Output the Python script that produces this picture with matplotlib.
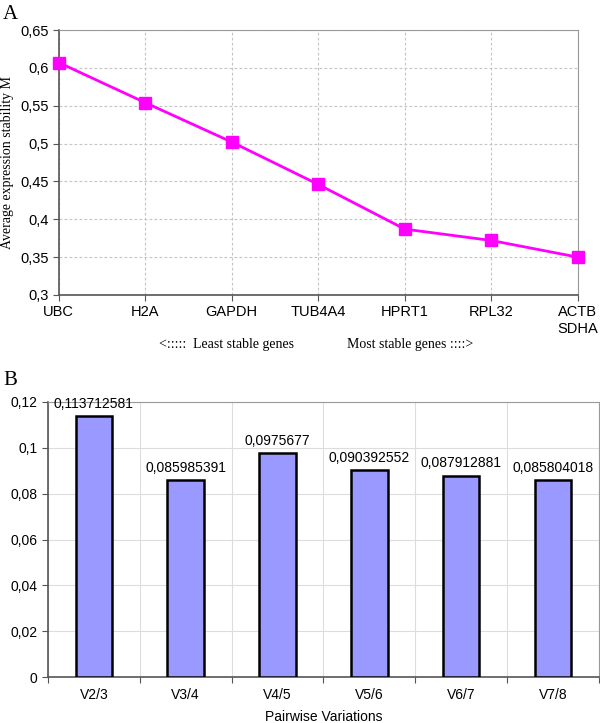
import matplotlib
matplotlib.use("Agg")
import matplotlib.pyplot as plt
from matplotlib.ticker import FuncFormatter, MultipleLocator, FixedLocator
import numpy as np

genes = ["UBC", "H2A", "GAPDH", "TUB4A4", "HPRT1", "RPL32", "ACTB\nSDHA"]
stability_m = [0.607, 0.554, 0.502, 0.446, 0.387, 0.372, 0.350]

pairs = ["V2/3", "V3/4", "V4/5", "V5/6", "V6/7", "V7/8"]
pairwise_v = [0.113712581, 0.085985391, 0.0975677, 0.090392552, 0.087912881, 0.085804018]

sans = "Liberation Sans"
serif = "Liberation Serif"


def comma(v, pos=None):
    return f"{v:g}".replace(".", ",")


fig = plt.figure(figsize=(6.0, 7.23), dpi=100)

# ---- panel A
ax1 = fig.add_axes([0.098, 0.592, 0.865, 0.3665])
x = np.arange(len(genes))
ax1.plot(x, stability_m, color="#FF00FF", lw=2, marker="s", ms=9, zorder=3,
         clip_on=False)
ax1.set_xlim(0, len(genes) - 1)
ax1.set_ylim(0.3, 0.65)
ax1.yaxis.set_major_locator(MultipleLocator(0.05))
ax1.yaxis.set_major_formatter(FuncFormatter(comma))
ax1.set_xticks(x)
ax1.set_xticklabels(genes, fontfamily=sans, fontsize=10.5, va="top")
ax1.grid(True, color="#c4c4c4", ls=(0, (2.5, 2)), lw=0.8)
ax1.tick_params(axis="both", direction="out", length=4, color="#555555",
                labelsize=10.5)
for lab in ax1.get_yticklabels():
    lab.set_fontfamily(sans)
for side in ("top", "right"):
    ax1.spines[side].set_color("#999999")
for side in ("left", "bottom"):
    ax1.spines[side].set_color("#555555")
    ax1.spines[side].set_linewidth(1.2)
ax1.set_ylabel("Average expression stability M", fontfamily=serif, fontsize=10,
               labelpad=4)
fig.text(0.005, 0.993, "A", fontfamily=serif, fontsize=15, va="top")
fig.text(0.265, 0.523, "<::::: ", fontfamily=serif, fontsize=10, va="center")
fig.text(0.322, 0.523, "Least stable genes", fontfamily=serif, fontsize=10,
         va="center")
fig.text(0.578, 0.523, "Most stable genes ::::>", fontfamily=serif, fontsize=10,
         va="center")

# ---- panel B
ax2 = fig.add_axes([0.08, 0.0636, 0.918, 0.3804])
xb = np.arange(len(pairs))
ax2.bar(xb, pairwise_v, width=0.4, color="#9999FF", edgecolor="black", lw=1.8,
        zorder=3)
for xi, v in zip(xb, pairwise_v):
    ax2.text(xi, v + 0.0022, str(v).replace(".", ","), ha="center", va="bottom",
             fontfamily=sans, fontsize=10, zorder=4)
ax2.set_xlim(-0.5, len(pairs) - 0.5)
ax2.set_ylim(0, 0.12)
ax2.yaxis.set_major_locator(MultipleLocator(0.02))
ax2.yaxis.set_major_formatter(FuncFormatter(comma))
ax2.xaxis.set_major_locator(FixedLocator(np.arange(len(pairs) + 1) - 0.5))
ax2.xaxis.set_major_formatter(FuncFormatter(lambda v, p: ""))
ax2.xaxis.set_minor_locator(FixedLocator(xb))
ax2.set_xticklabels(pairs, minor=True)
ax2.tick_params(axis="x", which="minor", length=0, pad=8)
ax2.tick_params(axis="both", which="major", direction="out", length=4,
                color="#555555")
ax2.tick_params(axis="both", which="both", labelsize=10)
for lab in ax2.get_yticklabels() + ax2.get_xticklabels(minor=True):
    lab.set_fontfamily(sans)
ax2.grid(True, which="major", color="#dddddd", lw=0.8)
for side in ("top", "right"):
    ax2.spines[side].set_color("#999999")
for side in ("left", "bottom"):
    ax2.spines[side].set_color("#555555")
    ax2.spines[side].set_linewidth(1.2)
ax2.set_xlabel("Pairwise Variations", fontfamily=sans, fontsize=10, labelpad=6)
fig.text(0.005, 0.487, "B", fontfamily=serif, fontsize=15, va="top")

fig.savefig("out.png", dpi=100)
